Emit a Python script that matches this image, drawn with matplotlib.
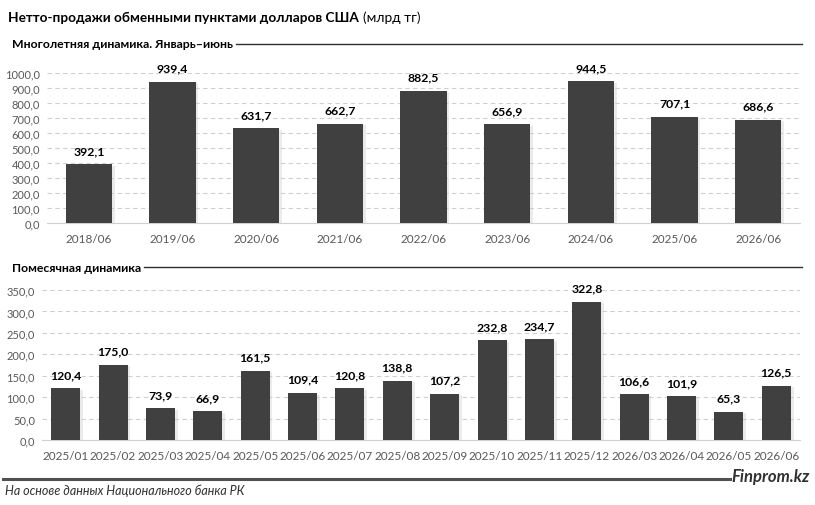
import matplotlib
matplotlib.use("Agg")
import matplotlib.pyplot as plt
import matplotlib.patheffects as pe
import numpy as np

plt.rcParams['font.family'] = ['Lato', 'DejaVu Sans']

# yearly data (January-June)
years = ["2018/06", "2019/06", "2020/06", "2021/06", "2022/06",
         "2023/06", "2024/06", "2025/06", "2026/06"]
years_vals = [392.1, 939.4, 631.7, 662.7, 882.5, 656.9, 944.5, 707.1, 686.6]
years_ticks = [0, 100, 200, 300, 400, 500, 600, 700, 800, 900, 1000]

# monthly data
months = ["2025/01", "2025/02", "2025/03", "2025/04", "2025/05", "2025/06",
          "2025/07", "2025/08", "2025/09", "2025/10", "2025/11", "2025/12",
          "2026/03", "2026/04", "2026/05", "2026/06"]
months_vals = [120.4, 175.0, 73.9, 66.9, 161.5, 109.4, 120.8, 138.8, 107.2,
               232.8, 234.7, 322.8, 106.6, 101.9, 65.3, 126.5]
months_ticks = [0, 50, 100, 150, 200, 250, 300, 350]

BAR = "#404040"
TICK = "#595959"
W, H = 815, 506


def fmt(v):
    return f"{v:.1f}".replace(".", ",")


def draw_bars(ax, labels, vals, ticks, width, lab_off):
    x = np.arange(len(labels))
    bars = ax.bar(x, vals, width=width, color=BAR, zorder=3)
    # faint shadow on the right like the original
    for b in bars:
        b.set_path_effects([pe.SimplePatchShadow(offset=(2, -1), shadow_rgbFace="#c8c8c8", alpha=0.35),
                            pe.Normal()])
    for xi, v in zip(x, vals):
        ax.annotate(fmt(v), (xi, v), xytext=(0, lab_off), textcoords="offset points",
                    ha="center", va="bottom", fontsize=8.8, fontweight="bold", color="black")
    ax.set_xlim(-0.5, len(labels) - 0.5)
    ax.set_ylim(0, ticks[-1])
    ax.set_yticks(ticks)
    ax.set_yticklabels([fmt(t) for t in ticks], fontsize=8, color=TICK)
    ax.set_xticks(x)
    ax.set_xticklabels(labels, fontsize=8.5, color=TICK)
    ax.tick_params(length=0, pad=7)
    ax.tick_params(axis="y", pad=5)
    ax.grid(axis="y", linestyle=(0, (4, 3)), color="#d0d0d0", linewidth=0.8, zorder=0)
    for s in ["top", "right", "left"]:
        ax.spines[s].set_visible(False)
    ax.spines["bottom"].set_color("#d0d0d0")
    ax.set_axisbelow(True)
    ax.set_facecolor("none")


fig = plt.figure(figsize=(W / 100, H / 100), dpi=100)

ax1 = fig.add_axes([47 / W, 1 - 224 / H, 753 / W, 150 / H])
draw_bars(ax1, years, years_vals, years_ticks, 0.55, 6)

ax2 = fig.add_axes([42 / W, 1 - 441 / H, 758 / W, 150 / H])
draw_bars(ax2, months, months_vals, months_ticks, 0.61, 6)

# title: bold part + regular units
t = fig.text(8 / W, 1 - 18 / H, "Нетто-продажи обменными пунктами долларов США", fontsize=9.8,
             fontweight="bold", ha="left", va="center")
fig.canvas.draw()
bb = t.get_window_extent()
fig.text(bb.x1 / W + 4 / W, 1 - 18 / H, "(млрд тг)", fontsize=9.8, ha="left", va="center")

# section headers with rule to the right
for y, txt in [(45, "Многолетняя динамика. Январь–июнь"), (268, "Помесячная динамика")]:
    st = fig.text(12 / W, 1 - y / H, txt, fontsize=8.8, fontweight="bold", ha="left", va="center")
    fig.canvas.draw()
    sb = st.get_window_extent()
    fig.add_artist(plt.Line2D([sb.x1 / W + 3 / W, 802 / W], [1 - y / H, 1 - y / H],
                              color="#303030", linewidth=1.0))

# footer
fig.add_artist(plt.Line2D([3 / W, 730 / W], [1 - 480 / H, 1 - 480 / H], color="#505050", linewidth=2.2))
fig.text(810 / W, 1 - 477 / H, "Finprom.kz", fontsize=12, fontweight="bold", style="italic",
         ha="right", va="center", color="#303030")
fig.text(5 / W, 1 - 491 / H, "На основе данных Национального банка РК", fontsize=9,
         style="italic", ha="left", va="center", color="#303030")

fig.savefig("out.png", dpi=100)
